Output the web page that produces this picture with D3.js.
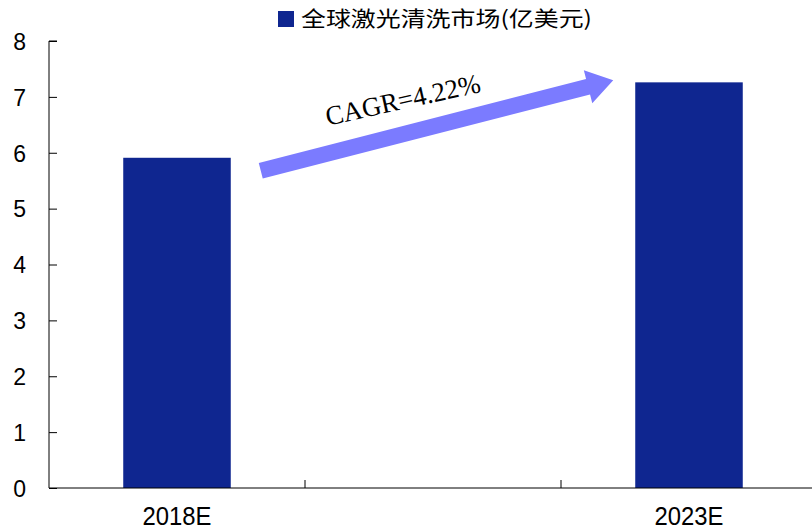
<!DOCTYPE html>
<html><head><meta charset="utf-8">
<script src="https://cdn.jsdelivr.net/npm/d3@7"></script>
<style>body{margin:0;background:#fff}svg{display:block}</style>
</head><body><svg id="c" width="812" height="530"></svg>
<script>
const categories = ["2018E", "", "2023E"];
const values = [5.91, null, 7.26];
const yTicks = [0,1,2,3,4,5,6,7,8];
const seriesName = "全球激光清洗市场(亿美元)";
const cagrLabel = "CAGR=4.22%";

const svg = d3.select("#c");
const m = {l:49, r:-5, t:41, b:42};
const W = 812, H = 530;
const x = d3.scaleBand().domain(categories.map((d,i)=>i)).range([m.l, W - m.r]).paddingInner(0.58).paddingOuter(0.29);
const xb = d3.scaleBand().domain(categories.map((d,i)=>i)).range([m.l, W - m.r]);
const y = d3.scaleLinear().domain([0,8]).range([H - m.b, m.t]);
const col = "#0f2690";
const sans = "Arial, 'Liberation Sans', sans-serif";

// bars
svg.selectAll("rect.bar").data(values.map((v,i)=>({v,i})).filter(d=>d.v!=null)).enter()
  .append("rect").attr("class","bar")
  .attr("x", d=>x(d.i)).attr("width", x.bandwidth())
  .attr("y", d=>y(d.v)).attr("height", d=>y(0)-y(d.v)).attr("fill", col);

// y axis
const ya = svg.append("g").attr("transform",`translate(${m.l},0)`)
  .call(d3.axisRight(y).tickValues(yTicks).tickSize(8).tickFormat(d3.format("d")));
ya.select(".domain").attr("stroke","#000").attr("d",`M8,${y(8)}H0V${y(0)}`);
ya.selectAll(".tick line").attr("stroke","#000");
ya.selectAll(".tick text").attr("x",-23).attr("text-anchor","end").attr("dy","0.36em")
  .style("font-family",sans).style("font-size","23px").attr("fill","#000");

// x axis
const xa = svg.append("g").attr("transform",`translate(0,${y(0)})`);
xa.append("line").attr("x1",m.l).attr("x2",W).attr("y1",0).attr("y2",0).attr("stroke","#000");
const bounds = categories.map((d,i)=>xb(i)).slice(1);
xa.selectAll("line.t").data(bounds).enter().append("line").attr("class","t")
  .attr("x1",d=>d).attr("x2",d=>d).attr("y1",0).attr("y2",-8).attr("stroke","#000");
xa.selectAll("text").data(categories.map((c,i)=>({c,i})).filter(d=>d.c)).enter().append("text")
  .attr("x",d=>xb(d.i)+xb.bandwidth()/2).attr("y",37).attr("text-anchor","middle")
  .attr("textLength",69).attr("lengthAdjust","spacingAndGlyphs")
  .style("font-family",sans).style("font-size","25px").text(d=>d.c);

// legend
const lg = svg.append("g");
lg.append("rect").attr("x",278).attr("y",11).attr("width",16).attr("height",16).attr("fill",col);
lg.append("text").attr("x",301).attr("y",26).attr("textLength",291).attr("lengthAdjust","spacingAndGlyphs")
  .style("font-family","'Noto Sans CJK SC', sans-serif").style("font-size","21px").text(seriesName);

// CAGR arrow
const x0 = x(0)+x.bandwidth()+30, y0 = y(values[0])+13;
const x1 = x(2)-22, y1 = y(values[2])-2;
const ang = Math.atan2(y1-y0, x1-x0);
const len = Math.hypot(x1-x0, y1-y0);
const sw = 8, hw = 17, hl = 26;
const ag = svg.append("g").attr("transform",`translate(${x0},${y0}) rotate(${ang*180/Math.PI})`);
ag.append("path").attr("fill","#7b7bff")
  .attr("d",`M0,${-sw}L${len-hl},${-sw}L${len-hl},${-hw}L${len},0L${len-hl},${hw}L${len-hl},${sw}L0,${sw}Z`);
svg.append("text").attr("transform",`translate(${x0+67},${y0-45}) rotate(-12.5)`)
  .attr("textLength",158).attr("lengthAdjust","spacingAndGlyphs")
  .style("font-family","'Liberation Serif','Times New Roman',serif").style("font-size","27px").attr("fill","#000")
  .text(cagrLabel);
</script></body></html>
